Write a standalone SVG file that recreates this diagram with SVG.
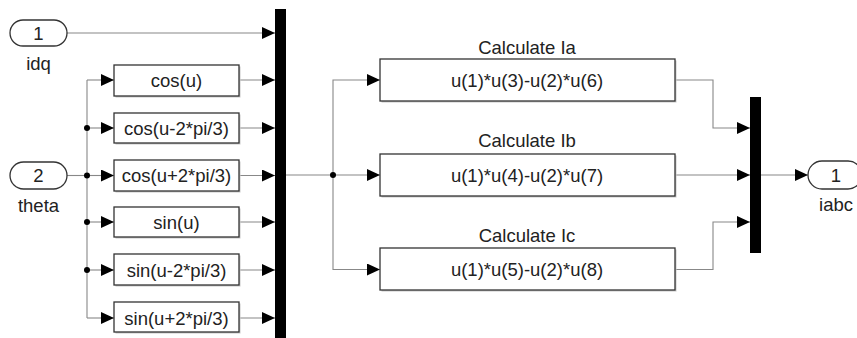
<svg xmlns="http://www.w3.org/2000/svg" width="857" height="338" viewBox="0 0 857 338">
  <defs>
    <marker id="arrow" viewBox="0 0 13 12" refX="13" refY="6" markerWidth="13" markerHeight="12" markerUnits="userSpaceOnUse" orient="auto">
      <path d="M0,0 L13,6 L0,12 Z" fill="#000"/>
    </marker>
    <style>
      text { font-family: "Liberation Sans", Arial, sans-serif; font-size: 18.5px; fill: #222; text-anchor: middle; }
      .blk { fill: #fff; stroke: #333; stroke-width: 1.3; }
      .shadow { fill: #c8c8c8; }
      .port { fill: #fff; stroke: #333; stroke-width: 1.3; }
      .bar { fill: #000; }
      .wire { fill: none; stroke: #888; stroke-width: 1.1; }
      .arr { marker-end: url(#arrow); }
      .dot { fill: #000; }
    </style>
  </defs>
  <rect width="857" height="338" fill="#fff"/>

  <!-- connectors -->
  <g id="connectors">
    <path class="wire arr" d="M67,33 H275"/>
    <path class="wire" d="M67,175.5 H87"/>
    <path class="wire" d="M87,80 V318"/>
    <path class="wire arr" d="M87,80 H114"/>
    <path class="wire arr" d="M87,128 H114"/>
    <path class="wire arr" d="M87,175.5 H114"/>
    <path class="wire arr" d="M87,222 H114"/>
    <path class="wire arr" d="M87,270 H114"/>
    <path class="wire arr" d="M87,318 H114"/>
    <path class="wire arr" d="M239,80 H275"/>
    <path class="wire arr" d="M239,128 H275"/>
    <path class="wire arr" d="M239,175.5 H275"/>
    <path class="wire arr" d="M239,222 H275"/>
    <path class="wire arr" d="M239,270 H275"/>
    <path class="wire arr" d="M239,318 H275"/>
    <path class="wire arr" d="M286,175 H380"/>
    <path class="wire arr" d="M333,175 V80 H380"/>
    <path class="wire arr" d="M333,175 V269.5 H380"/>
    <path class="wire arr" d="M675,80 H713 V128 H750"/>
    <path class="wire arr" d="M675,175 H750"/>
    <path class="wire arr" d="M675,269.5 H713 V222 H750"/>
    <path class="wire arr" d="M761,175 H808"/>
    <circle class="dot" cx="87" cy="128" r="3"/>
    <circle class="dot" cx="87" cy="175.5" r="3"/>
    <circle class="dot" cx="87" cy="222" r="3"/>
    <circle class="dot" cx="87" cy="270" r="3"/>
    <circle class="dot" cx="333" cy="175" r="3"/>
  </g>

  <!-- input ports -->
  <g id="in-idq">
    <rect class="port" x="10" y="20" width="57" height="26" rx="13"/>
    <text x="38.5" y="39.5">1</text>
    <text x="38.5" y="69.5">idq</text>
  </g>
  <g id="in-theta">
    <rect class="port" x="10" y="162" width="57" height="27" rx="13.5"/>
    <text x="38.5" y="182">2</text>
    <text x="38.5" y="211.5">theta</text>
  </g>

  <!-- trig function blocks -->
  <g id="fcn-cos">
    <rect class="shadow" x="115.5" y="66.5" width="125" height="31"/>
    <rect class="blk" x="114" y="65" width="125" height="31"/>
    <text x="176.5" y="87">cos(u)</text>
  </g>
  <g id="fcn-cos-m">
    <rect class="shadow" x="115.5" y="114.5" width="125" height="30"/>
    <rect class="blk" x="114" y="113" width="125" height="30"/>
    <text x="176.5" y="134.5">cos(u-2*pi/3)</text>
  </g>
  <g id="fcn-cos-p">
    <rect class="shadow" x="115.5" y="161.5" width="125" height="31"/>
    <rect class="blk" x="114" y="160" width="125" height="31"/>
    <text x="176.5" y="182">cos(u+2*pi/3)</text>
  </g>
  <g id="fcn-sin">
    <rect class="shadow" x="115.5" y="208.5" width="125" height="30"/>
    <rect class="blk" x="114" y="207" width="125" height="30"/>
    <text x="176.5" y="228.5">sin(u)</text>
  </g>
  <g id="fcn-sin-m">
    <rect class="shadow" x="115.5" y="255.5" width="125" height="31"/>
    <rect class="blk" x="114" y="254" width="125" height="31"/>
    <text x="176.5" y="276.5">sin(u-2*pi/3)</text>
  </g>
  <g id="fcn-sin-p">
    <rect class="shadow" x="115.5" y="303.5" width="125" height="30"/>
    <rect class="blk" x="114" y="302" width="125" height="30"/>
    <text x="176.5" y="324.5">sin(u+2*pi/3)</text>
  </g>

  <!-- input mux -->
  <g id="mux-in">
    <rect class="bar" x="275" y="9" width="11" height="335"/>
  </g>

  <!-- phase current blocks -->
  <g id="calc-ia">
    <text x="527" y="53.5">Calculate Ia</text>
    <rect class="shadow" x="381.5" y="60.5" width="295" height="42"/>
    <rect class="blk" x="380" y="59" width="295" height="42"/>
    <text x="527" y="86.5">u(1)*u(3)-u(2)*u(6)</text>
  </g>
  <g id="calc-ib">
    <text x="527" y="146.5">Calculate Ib</text>
    <rect class="shadow" x="381.5" y="155.5" width="295" height="42"/>
    <rect class="blk" x="380" y="154" width="295" height="42"/>
    <text x="527" y="181.5">u(1)*u(4)-u(2)*u(7)</text>
  </g>
  <g id="calc-ic">
    <text x="527" y="241.5">Calculate Ic</text>
    <rect class="shadow" x="381.5" y="249.5" width="295" height="42"/>
    <rect class="blk" x="380" y="248" width="295" height="42"/>
    <text x="527" y="276">u(1)*u(5)-u(2)*u(8)</text>
  </g>

  <!-- output mux -->
  <g id="mux-out">
    <rect class="bar" x="750" y="97" width="11" height="156"/>
  </g>

  <!-- output port -->
  <g id="out-iabc">
    <rect class="port" x="808" y="161" width="54" height="28" rx="14"/>
    <text x="836" y="181.5">1</text>
    <text x="836" y="210.5">iabc</text>
  </g>
</svg>
